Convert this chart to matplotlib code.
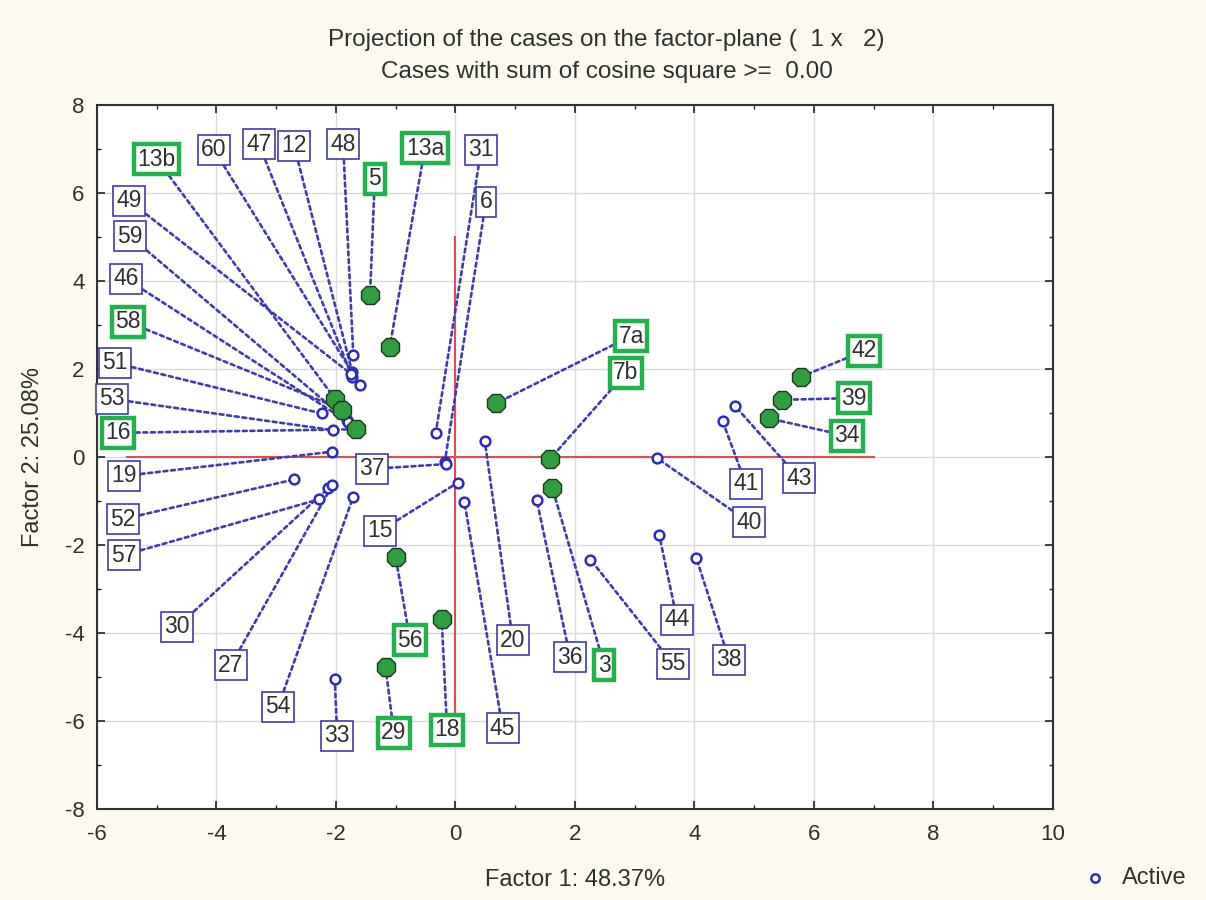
import matplotlib
matplotlib.use("Agg")
import matplotlib.pyplot as plt
from matplotlib.lines import Line2D

plt.rcParams['font.family'] = ['Liberation Sans', 'DejaVu Sans']
plt.rcParams['axes.unicode_minus'] = False

# Case coordinates on factor 1 / factor 2
cases = ['13b', '60', '47', '12', '48', '5', '13a', '31', '6',
         '49', '59', '46', '58', '51', '53', '16', '19', '52', '57',
         '30', '27', '54', '33', '29', '18', '45', '56', '15', '37',
         '20', '36', '3', '55', '44', '38', '40', '41', '43',
         '34', '39', '42', '7a', '7b']
factor1 = [-2.02, -1.60, -1.73, -1.73, -1.71, -1.43, -1.10, -0.33, -0.18,
           -1.74, -1.82, -1.80, -1.90, -2.24, -2.05, -1.67, -2.07, -2.70, -2.28,
           -2.13, -2.06, -1.71, -2.02, -1.17, -0.23, 0.15, -1.00, 0.04, -0.15,
           0.49, 1.36, 1.62, 2.26, 3.41, 4.03, 3.38, 4.47, 4.68,
           5.24, 5.46, 5.79, 0.68, 1.58]
factor2 = [1.33, 1.64, 1.83, 1.94, 2.32, 3.68, 2.51, 0.55, -0.12,
           1.88, 0.84, 0.80, 1.08, 0.99, 0.61, 0.63, 0.12, -0.51, -0.96,
           -0.71, -0.64, -0.90, -5.05, -4.78, -3.69, -1.02, -2.28, -0.58, -0.16,
           0.37, -0.98, -0.70, -2.33, -1.77, -2.29, -0.03, 0.82, 1.16,
           0.88, 1.30, 1.83, 1.22, -0.05]
highlighted = ['13b', '5', '13a', '58', '16', '56', '29', '18', '3',
               '7a', '7b', '42', '39', '34']

# Where each case label sits (data units)
label_pos = {
    '13b': (-5.00, 6.77), '60': (-4.04, 6.98), '47': (-3.29, 7.11),
    '12': (-2.70, 7.07), '48': (-1.88, 7.11), '5': (-1.35, 6.32),
    '13a': (-0.51, 7.02), '31': (0.43, 6.98), '6': (0.51, 5.80),
    '49': (-5.46, 5.82), '59': (-5.45, 5.02), '46': (-5.51, 4.05),
    '58': (-5.48, 3.07), '51': (-5.70, 2.14), '53': (-5.75, 1.32),
    '16': (-5.65, 0.55), '19': (-5.55, -0.43), '52': (-5.56, -1.41),
    '57': (-5.55, -2.23), '30': (-4.66, -3.86), '27': (-3.76, -4.73),
    '54': (-2.97, -5.68), '33': (-1.98, -6.34), '29': (-1.03, -6.27),
    '18': (-0.14, -6.20), '45': (0.79, -6.16), '56': (-0.76, -4.16),
    '15': (-1.26, -1.68), '37': (-1.40, -0.27), '20': (0.96, -4.16),
    '36': (1.92, -4.55), '3': (2.49, -4.73), '55': (3.64, -4.70),
    '44': (3.71, -3.70), '38': (4.58, -4.61), '40': (4.91, -1.48),
    '41': (4.86, -0.61), '43': (5.75, -0.48), '34': (6.55, 0.48),
    '39': (6.67, 1.34), '42': (6.84, 2.41), '7a': (2.94, 2.75),
    '7b': (2.85, 1.91),
}

BLUE = '#2b2bc0'
LEAD = '#3c3cb4'
GREEN_DOT = '#2e9e40'
GREEN_BOX = '#22b14c'
TEXT = '#303030'

fig = plt.figure(figsize=(12.06, 9.0), dpi=100, facecolor='#fcfaf0')
ax = fig.add_axes([0.0804, 0.1011, 0.7927, 0.7822])
ax.set_facecolor('white')

ax.set_xlim(-6, 10)
ax.set_ylim(-8, 8)
ax.set_xticks(range(-6, 11, 2))
ax.set_yticks(range(-8, 9, 2))
ax.set_xticks(range(-6, 11, 1), minor=True)
ax.set_yticks(range(-8, 9, 1), minor=True)
ax.grid(True, which='major', color='#dadada', lw=1.0, zorder=0)
ax.set_axisbelow(True)
ax.tick_params(which='both', direction='in', top=True, right=True,
               labelsize=16, colors='#222222', labelcolor=TEXT)
ax.tick_params(which='major', length=6, width=1.2)
ax.tick_params(which='minor', length=3, width=1.0)
ax.tick_params(axis='x', which='major', pad=11)
ax.tick_params(axis='y', which='major', pad=9)
for sp in ax.spines.values():
    sp.set_linewidth(1.5)
    sp.set_color('#333333')

# reference axes through the origin
ax.plot([0, 0], [-6, 5], color='#d85050', lw=1.5, zorder=1)
ax.plot([-5.5, 7], [0, 0], color='#d85050', lw=1.5, zorder=1)

for name, x, y in zip(cases, factor1, factor2):
    hl = name in highlighted
    lx, ly = label_pos[name]
    ax.annotate(name, xy=(x, y), xytext=(lx, ly), textcoords='data',
                ha='center', va='center', fontsize=16.5, color=TEXT,
                zorder=3,
                bbox=dict(boxstyle='square,pad=0.15', fc='white',
                          ec=GREEN_BOX if hl else '#3c3cb0',
                          lw=3.2 if hl else 1.2),
                arrowprops=dict(arrowstyle='-', color=LEAD, lw=1.9,
                                linestyle=(0, (1.5, 1.4)),
                                shrinkA=0, shrinkB=0))

for name, x, y in zip(cases, factor1, factor2):
    if name in highlighted:
        ax.plot(x, y, marker='8', ms=14.5, mfc=GREEN_DOT, mec='#1a3a1a',
                mew=1.0, ls='none', zorder=5)
    else:
        ax.plot(x, y, marker='o', ms=7, mfc='white', mec=BLUE,
                mew=1.8, ls='none', zorder=4)

ax.set_xlabel('Factor 1: 48.37%', fontsize=17, color=TEXT)
ax.set_ylabel('Factor 2: 25.08%', fontsize=17, color=TEXT)
ax.xaxis.set_label_coords(0.5, -(880 - 809) / 704)
ax.xaxis.label.set_va('center')
ax.yaxis.set_label_coords((33 - 97) / 956, 0.5)
ax.yaxis.label.set_va('center')

fig.text(0.503, 0.9556, 'Projection of the cases on the factor-plane (  1 x   2)',
         ha='center', va='center', fontsize=17.5, color=TEXT)
fig.text(0.503, 0.92, 'Cases with sum of cosine square >=  0.00',
         ha='center', va='center', fontsize=17.5, color=TEXT)

# legend entry in the bottom-right corner
fig.add_artist(Line2D([1095 / 1206], [22 / 900], transform=fig.transFigure,
                      marker='o', ms=6, mfc='white', mec=BLUE, mew=1.8,
                      ls='none'))
fig.text(1122 / 1206, 22 / 900, 'Active', ha='left', va='center',
         fontsize=17, color=TEXT)

fig.savefig('out.png', dpi=100, facecolor=fig.get_facecolor())
